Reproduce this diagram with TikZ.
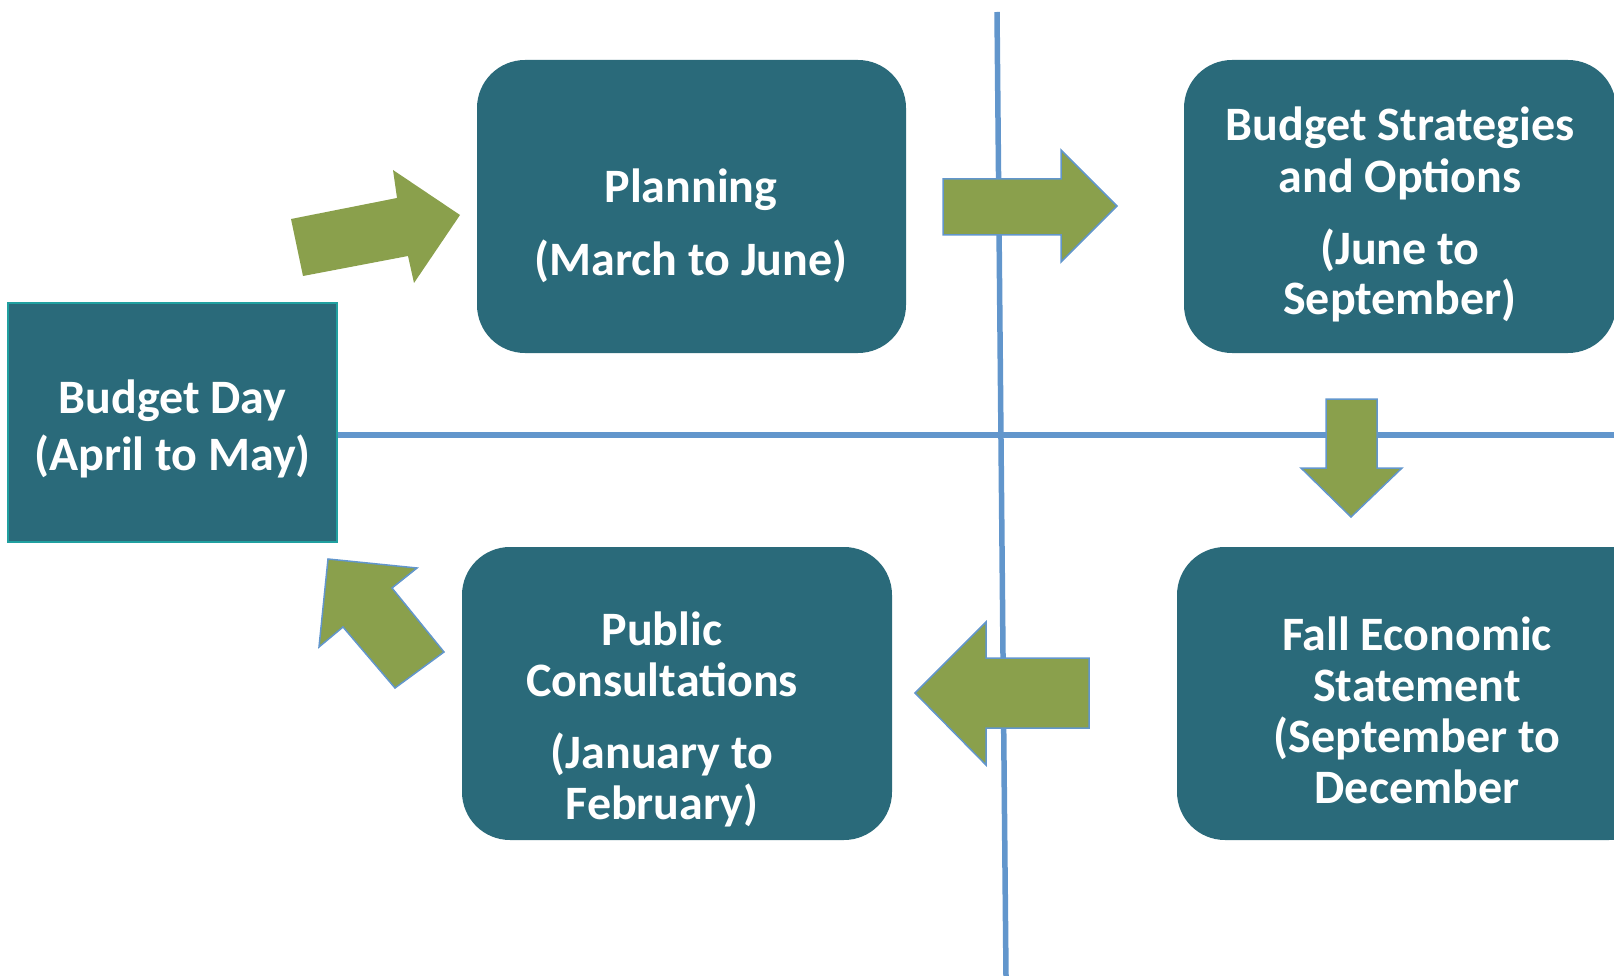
\documentclass[tikz,border=0pt]{standalone}
\usepackage{fontspec}
\setmainfont{Carlito}

\definecolor{boxcolor}{RGB}{42,106,122}
\definecolor{arrowcolor}{RGB}{138,160,76}
\definecolor{linecolor}{RGB}{98,150,204}
\definecolor{edgecolor}{RGB}{32,160,160}

\begin{document}
\begin{tikzpicture}[x=1pt, y=-1pt,
    stage/.style = {fill=boxcolor, rounded corners=48pt, minimum height=293pt, inner sep=0pt},
    caption/.style = {text=white, align=center, inner sep=0pt, anchor=base, font=\bfseries\fontsize{48}{51}\selectfont},
    axis/.style = {draw=linecolor, line width=5.5pt},
    blockarrow/.style = {fill=arrowcolor, draw=linecolor, line width=1.5pt, line join=miter}]
    \useasboundingbox (0,0) rectangle (1614,976);

    % quadrant lines
    \coordinate (htop) at (337,435);
    \coordinate (hend) at (1614,435);
    \coordinate (vtop) at (997,12);
    \coordinate (vend) at (1006,976);
    \draw[axis] (htop) -- (hend);
    \draw[axis] (vtop) -- (vend);

    % stages
    \node[draw=edgecolor, line width=1.5pt, fill=boxcolor, minimum width=329pt, minimum height=239pt, inner sep=0pt] (budgetday) at (172.5,422.5) {};
    \node[stage, minimum width=429pt] (planning) at (691.5,206.5) {};
    \node[stage, minimum width=432pt] (strategies) at (1400,206.5) {};
    \node[stage, minimum width=480pt] (fall) at (1417,693.5) {};
    \node[stage, minimum width=430pt] (public) at (677,693.5) {};

    \node[caption, font=\bfseries\fontsize{48}{57}\selectfont] (budgetdaytxt) at (172.5,470) {Budget Day\\(April to May)};
    \node[caption] (planningtxt) at (691,276) {Planning\\[22pt](March to June)};
    \node[caption] (strategiestxt) at (1400,315) {Budget Strategies\\and Options\\[21pt](June to\\September)};
    \node[caption] (falltxt) at (1417,803) {Fall Economic\\Statement\\(September to\\December};
    \node[caption] (publictxt) at (662,819) {Public\\Consultations\\[21pt](January to\\February)};

    % arrows between stages
    \fill[arrowcolor] (291,219) -- (397,198) -- (393,170) -- (460,215) -- (414,283) -- (408,256) -- (303,276) -- cycle;
    \draw[blockarrow] (943,179) -- (1061,179) -- (1061,150) -- (1117,206) -- (1061,262) -- (1061,235) -- (943,235) -- cycle;
    \draw[blockarrow] (1326,399) -- (1377,399) -- (1377,468) -- (1402,468) -- (1351,517) -- (1301,468) -- (1326,468) -- cycle;
    \draw[blockarrow] (1089,658) -- (986,658) -- (986,622) -- (915,693) -- (986,765) -- (986,728) -- (1089,728) -- cycle;
    \draw[blockarrow] (328,559) -- (417,568) -- (392,588) -- (444,652) -- (395,688) -- (343,627) -- (319,647) -- cycle;
\end{tikzpicture}
\end{document}
